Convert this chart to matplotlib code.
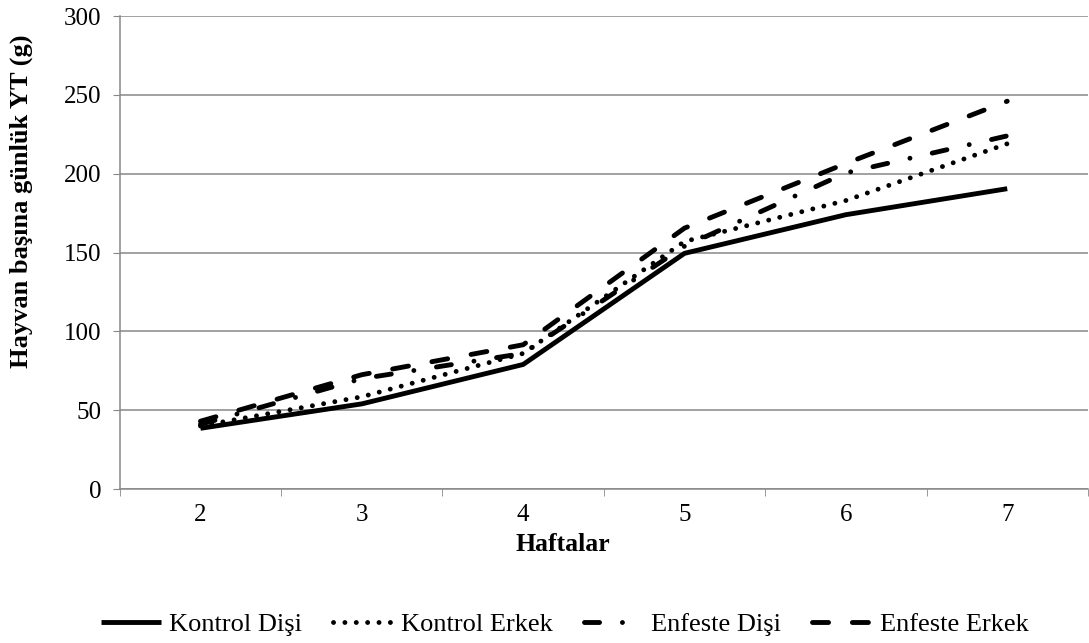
import matplotlib
matplotlib.use("Agg")
import matplotlib.pyplot as plt
import numpy as np

weeks = ["2", "3", "4", "5", "6", "7"]
kontrol_disi = [38.5, 54, 79, 149.5, 174, 190.5]
kontrol_erkek = [40, 58.5, 86, 157, 183, 219]
enfeste_disi = [41, 70, 86, 154, 200.5, 224]
enfeste_erkek = [43, 72.5, 91.5, 165.5, 206.5, 246]

plt.rcParams["font.family"] = ["Liberation Serif", "DejaVu Serif"]

fig = plt.figure(figsize=(10.89, 6.43), dpi=100)
ax = fig.add_axes([0.110, 0.2395, 0.889, 0.7355])

x = np.arange(len(weeks))
lw = 3.5
ax.plot(x, kontrol_disi, color="black", lw=lw, solid_capstyle="butt", label="Kontrol Dişi")
ax.plot(x, kontrol_erkek, color="black", lw=lw, linestyle=(0, (0.01, 2.33)),
        dash_capstyle="round", label="Kontrol Erkek")
ax.plot(x, enfeste_disi, color="black", lw=lw, linestyle=(0, (3.1, 4.7, 0.01, 4.7)),
        dash_capstyle="round", label="Enfeste Dişi")
ax.plot(x, enfeste_erkek, color="black", lw=lw, linestyle=(0, (3.3, 4.9)),
        dash_capstyle="round", label="Enfeste Erkek")

ax.set_xlim(-0.5, len(weeks) - 0.5)
ax.set_ylim(0, 300)
ax.set_yticks(np.arange(0, 301, 50))
ax.set_xticks(x)
ax.set_xticklabels(weeks)
ax.set_xticks(np.arange(-0.5, len(weeks), 1), minor=True)
ax.tick_params(axis="x", which="major", length=0, labelsize=18, pad=11)
ax.tick_params(axis="x", which="minor", length=5, color="#888888", direction="out")
ax.tick_params(axis="y", length=5, color="#888888", labelsize=18, pad=8)

ax.grid(axis="y", color="#888888", lw=1.1)
ax.set_axisbelow(True)
for s in ["top", "right"]:
    ax.spines[s].set_visible(False)
for s in ["left", "bottom"]:
    ax.spines[s].set_color("#888888")
    ax.spines[s].set_linewidth(1.1)

# axis titles placed like in the original (centred on the whole plot area)
fig.text(0.5165, (643 - 551) / 643, "Haftalar", fontsize=18.5, fontweight="bold",
         ha="center", va="baseline")
fig.text(0.020, (643 - 35) / 643, "Hayvan başına günlük YT (g)", fontsize=19,
         fontweight="bold", rotation=90, ha="center", va="top")

fig.legend(loc="center", bbox_to_anchor=(0.519, 0.0295), ncol=4, frameon=False,
           fontsize=19, handlelength=2.27, handletextpad=0.3, columnspacing=1.17,
           borderpad=0)

fig.savefig("out.png", dpi=100)
